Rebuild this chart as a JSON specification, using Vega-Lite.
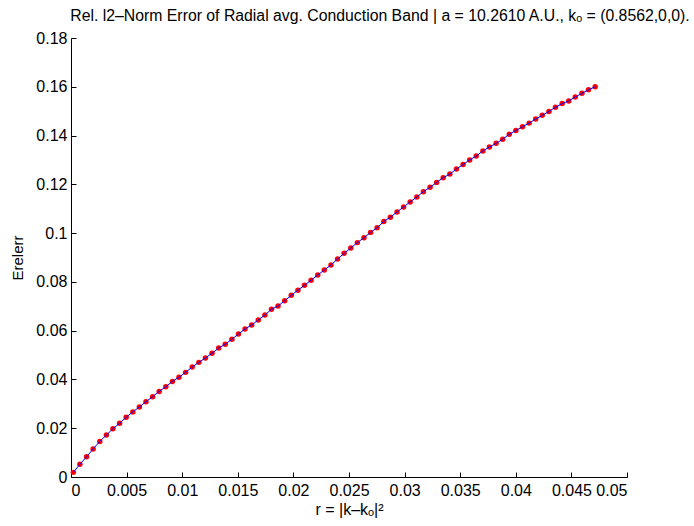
{
  "$schema": "https://vega.github.io/schema/vega-lite/v6.json",
  "width": 556,
  "height": 439,
  "autosize": "none",
  "padding": {"left": 71, "top": 38, "right": 67, "bottom": 49},
  "background": "white",
  "config": {
    "view": {"stroke": null},
    "font": "Liberation Sans",
    "axis": {
      "grid": false,
      "domainColor": "#000000",
      "domainWidth": 1,
      "tickColor": "#000000",
      "labelColor": "#000000",
      "labelFont": "Liberation Sans",
      "labelFontSize": 16,
      "titleFont": "Liberation Sans",
      "titleFontSize": 15,
      "titleFontWeight": "normal",
      "titleColor": "#000000"
    }
  },
  "title": {
    "text": "Rel. l2–Norm Error of Radial avg. Conduction Band | a = 10.2610 A.U., kₒ = (0.8562,0,0).",
    "font": "Liberation Sans",
    "fontSize": 15.8,
    "fontWeight": "normal",
    "color": "#000000",
    "anchor": "middle",
    "dx": 31,
    "offset": 5
  },
  "data": {
    "values": [
      {"r": 0.00021, "err": 0.0019},
      {"r": 0.00080, "err": 0.0052},
      {"r": 0.00140, "err": 0.0083},
      {"r": 0.00199, "err": 0.0115},
      {"r": 0.00259, "err": 0.0146},
      {"r": 0.00318, "err": 0.0172},
      {"r": 0.00377, "err": 0.0198},
      {"r": 0.00437, "err": 0.0220},
      {"r": 0.00496, "err": 0.0245},
      {"r": 0.00556, "err": 0.0267},
      {"r": 0.00615, "err": 0.0287},
      {"r": 0.00674, "err": 0.0309},
      {"r": 0.00734, "err": 0.0329},
      {"r": 0.00793, "err": 0.0351},
      {"r": 0.00853, "err": 0.0370},
      {"r": 0.00912, "err": 0.0392},
      {"r": 0.00971, "err": 0.0409},
      {"r": 0.01031, "err": 0.0429},
      {"r": 0.01090, "err": 0.0451},
      {"r": 0.01150, "err": 0.0470},
      {"r": 0.01209, "err": 0.0488},
      {"r": 0.01268, "err": 0.0507},
      {"r": 0.01328, "err": 0.0529},
      {"r": 0.01387, "err": 0.0544},
      {"r": 0.01447, "err": 0.0565},
      {"r": 0.01506, "err": 0.0586},
      {"r": 0.01565, "err": 0.0607},
      {"r": 0.01625, "err": 0.0623},
      {"r": 0.01684, "err": 0.0644},
      {"r": 0.01744, "err": 0.0664},
      {"r": 0.01803, "err": 0.0688},
      {"r": 0.01862, "err": 0.0701},
      {"r": 0.01922, "err": 0.0723},
      {"r": 0.01981, "err": 0.0745},
      {"r": 0.02041, "err": 0.0766},
      {"r": 0.02100, "err": 0.0786},
      {"r": 0.02159, "err": 0.0807},
      {"r": 0.02219, "err": 0.0828},
      {"r": 0.02278, "err": 0.0849},
      {"r": 0.02338, "err": 0.0869},
      {"r": 0.02397, "err": 0.0894},
      {"r": 0.02456, "err": 0.0917},
      {"r": 0.02516, "err": 0.0939},
      {"r": 0.02575, "err": 0.0961},
      {"r": 0.02635, "err": 0.0981},
      {"r": 0.02694, "err": 0.1003},
      {"r": 0.02753, "err": 0.1022},
      {"r": 0.02813, "err": 0.1048},
      {"r": 0.02872, "err": 0.1065},
      {"r": 0.02932, "err": 0.1087},
      {"r": 0.02991, "err": 0.1107},
      {"r": 0.03050, "err": 0.1128},
      {"r": 0.03110, "err": 0.1148},
      {"r": 0.03169, "err": 0.1170},
      {"r": 0.03229, "err": 0.1188},
      {"r": 0.03288, "err": 0.1208},
      {"r": 0.03347, "err": 0.1227},
      {"r": 0.03407, "err": 0.1242},
      {"r": 0.03466, "err": 0.1263},
      {"r": 0.03526, "err": 0.1281},
      {"r": 0.03585, "err": 0.1300},
      {"r": 0.03644, "err": 0.1316},
      {"r": 0.03704, "err": 0.1337},
      {"r": 0.03763, "err": 0.1353},
      {"r": 0.03823, "err": 0.1368},
      {"r": 0.03882, "err": 0.1385},
      {"r": 0.03941, "err": 0.1405},
      {"r": 0.04001, "err": 0.1421},
      {"r": 0.04060, "err": 0.1436},
      {"r": 0.04120, "err": 0.1451},
      {"r": 0.04179, "err": 0.1468},
      {"r": 0.04238, "err": 0.1483},
      {"r": 0.04298, "err": 0.1499},
      {"r": 0.04357, "err": 0.1516},
      {"r": 0.04417, "err": 0.1531},
      {"r": 0.04476, "err": 0.1542},
      {"r": 0.04535, "err": 0.1558},
      {"r": 0.04595, "err": 0.1573},
      {"r": 0.04654, "err": 0.1588},
      {"r": 0.04714, "err": 0.1600}
    ]
  },
  "layer": [
    {
      "mark": {"type": "point", "shape": "circle", "filled": true, "color": "#ff0000", "size": 30, "opacity": 1},
      "encoding": {
        "x": {
          "field": "r",
          "type": "quantitative",
          "scale": {"domain": [0, 0.05], "nice": false, "zero": false},
          "axis": {
            "orient": "bottom",
            "title": "r = |k–kₒ|²",
            "titleFontSize": 16,
            "values": [0, 0.005, 0.01, 0.015, 0.02, 0.025, 0.03, 0.035, 0.04, 0.045, 0.05],
            "format": "~g",
            "ticks": false,
            "labelPadding": 5,
            "titlePadding": 3
          }
        },
        "y": {
          "field": "err",
          "type": "quantitative",
          "scale": {"domain": [0, 0.18], "nice": false, "zero": false},
          "axis": {
            "orient": "left",
            "title": "Erelerr",
            "values": [0, 0.02, 0.04, 0.06, 0.08, 0.1, 0.12, 0.14, 0.16, 0.18],
            "format": "~g",
            "ticks": false,
            "labelPadding": 4,
            "titlePadding": 10
          }
        }
      }
    },
    {
      "mark": {"type": "line", "color": "#0000ff", "strokeWidth": 1},
      "encoding": {
        "x": {
          "field": "r",
          "type": "quantitative",
          "axis": {
            "orient": "bottom",
            "title": null,
            "values": [0, 0.005, 0.01, 0.015, 0.02, 0.025, 0.03, 0.035, 0.04, 0.045, 0.05],
            "labels": false,
            "domain": false,
            "tickSize": 5,
            "offset": -5
          }
        },
        "y": {
          "field": "err",
          "type": "quantitative",
          "axis": {
            "orient": "left",
            "title": null,
            "values": [0, 0.02, 0.04, 0.06, 0.08, 0.1, 0.12, 0.14, 0.16, 0.18],
            "labels": false,
            "domain": false,
            "tickSize": 5,
            "offset": -5
          }
        }
      }
    }
  ],
  "resolve": {"axis": {"x": "independent", "y": "independent"}}
}
